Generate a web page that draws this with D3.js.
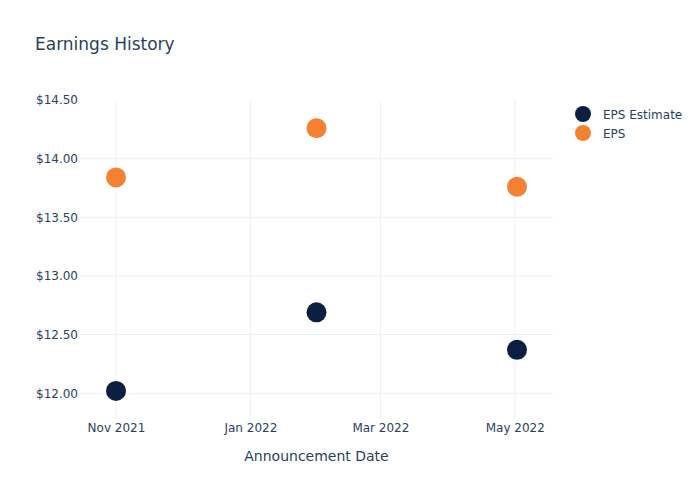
<!DOCTYPE html>
<html><head><meta charset="utf-8">
<script src="https://cdn.jsdelivr.net/npm/d3@7"></script>
<style>body{margin:0;background:#fff}svg{display:block;font-family:"DejaVu Sans",Verdana,sans-serif}</style>
</head><body>
<script>
const dates = ["2021-11-01","2022-01-31","2022-05-02"];
const epsEstimate = [12.02, 12.69, 12.37];
const eps = [13.84, 14.26, 13.76];
const seriesNames = ["EPS Estimate","EPS"];
const seriesColors = ["#0c1f40","#f58233"];
const yTicks = [12.0, 12.5, 13.0, 13.5, 14.0, 14.5];
const xTickDates = ["2021-11-01","2022-01-01","2022-03-01","2022-05-01"];
const xTickLabels = ["Nov 2021","Jan 2022","Mar 2022","May 2022"];

const W=700,H=500, L=80, R=553, T=100, B=420;
const parse = d3.utcParse("%Y-%m-%d");
const dd = dates.map(parse);
const pad = 16.34*864e5;
const x = d3.scaleUtc().domain([new Date(+dd[0]-pad), new Date(+dd[dd.length-1]+pad)]).range([L,R]);
const y = d3.scaleLinear().domain([11.772,14.5]).range([B,T]);
const text="#2a3f5f", grid="#ebf0f8";

const svg=d3.select("body").append("svg").attr("width",W).attr("height",H);
svg.append("text").attr("x",35).attr("y",50).attr("fill",text).attr("font-size",17).text("Earnings History");

// grid
const xt = xTickDates.map(parse);
svg.append("g").selectAll("line").data(xt).join("line")
  .attr("x1",d=>x(d)).attr("x2",d=>x(d)).attr("y1",T).attr("y2",B).attr("stroke",grid).attr("stroke-width",1);
svg.append("g").selectAll("line").data(yTicks.filter(v=>v<14.5)).join("line")
  .attr("x1",L).attr("x2",R).attr("y1",d=>y(d)).attr("y2",d=>y(d)).attr("stroke",grid).attr("stroke-width",1);

// axes
const xAxis = d3.axisBottom(x).tickValues(xt).tickFormat((d,i)=>xTickLabels[i]).tickSize(0).tickPadding(3);
const gx = svg.append("g").attr("transform",`translate(0,${B})`).call(xAxis);
gx.select(".domain").remove();
gx.selectAll("text").attr("fill",text).attr("font-size",12).attr("font-family","DejaVu Sans, sans-serif").attr("dy","0.71em");
const yAxis = d3.axisLeft(y).tickValues(yTicks).tickFormat(d=>"$"+d.toFixed(2)).tickSize(0).tickPadding(2);
const gy = svg.append("g").attr("transform",`translate(${L},0)`).call(yAxis);
gy.select(".domain").remove();
gy.selectAll("text").attr("fill",text).attr("font-size",12).attr("font-family","DejaVu Sans, sans-serif");

svg.append("text").attr("x",(L+R)/2).attr("y",461).attr("text-anchor","middle").attr("fill",text).attr("font-size",14).text("Announcement Date");

// points
const series=[epsEstimate,eps];
series.forEach((vals,si)=>{
  svg.append("g").selectAll("circle").data(vals).join("circle")
    .attr("cx",(d,i)=>x(dd[i])).attr("cy",d=>y(d)).attr("r",10).attr("fill",seriesColors[si]);
});

// legend
const lg = svg.append("g");
seriesNames.forEach((n,i)=>{
  lg.append("circle").attr("cx",583).attr("cy",114+i*19).attr("r",8).attr("fill",seriesColors[i]);
  lg.append("text").attr("x",603).attr("y",115+i*19).attr("dy","0.35em").attr("fill",text).attr("font-size",12).text(n);
});
</script>
</body></html>
